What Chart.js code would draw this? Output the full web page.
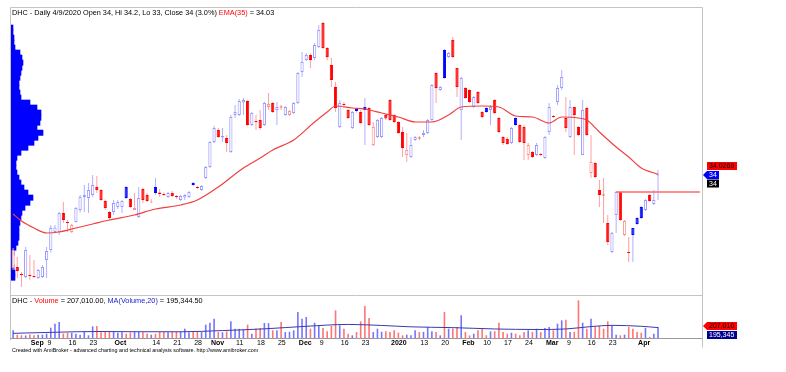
<!DOCTYPE html>
<html lang="en">
<head>
  <meta charset="UTF-8" />
  <meta name="viewport" content="width=device-width,initial-scale=1.0" />
  <title>DHC - Daily, EMA(35), Volume</title>

  <script src="https://cdn.jsdelivr.net/npm/chart.js"></script>

  <style>
    html,body { margin:0; padding:0; background:#fff; }
    #box      { position:relative; width:786px; height:372px; overflow:hidden;
                font-family:"Liberation Sans", Arial, sans-serif; }
    .cap      { position:absolute; left:12px; white-space:nowrap; color:#000; line-height:1; }
    #priceCap { top:9px;   font-size:7.3px; }
    #volCap   { top:297px; font-size:7.3px; }
    #footer   { top:348px; font-size:5.4px; }
    .red      { color:#ff0000; }
    .blue     { color:#2020d0; }
  </style>
</head>
<body>

<div id="box">
  <canvas id="chart"></canvas>
  <div class="cap" id="priceCap"></div>
  <div class="cap" id="volCap"></div>
  <div class="cap" id="footer">Created with AmiBroker - advanced charting and technical analysis software. http://www.amibroker.com</div>
</div>

<script>
  /* ---------- data ---------- */
  const ticker    = 'DHC';
  const firstDay  = '2019-08-27';
  const holidays  = ['2019-09-02','2020-01-01','2020-01-23','2020-01-24','2020-01-27',
                     '2020-01-28','2020-01-29','2020-04-02'];
  const blankBars = 10;          // empty space right of the last bar
  const prevClose = 31.3;        // close of the bar before the first one

  const opens  = [30.28,30.32,30.02,29.92,30.0,29.96,29.88,29.92,30.6,31.0,
                  31.72,31.72,32.48,32.12,31.72,32.12,32.6,33.12,33.08,33.2,
                  33.52,33.4,32.96,32.52,32.52,32.72,32.72,33.52,33.04,32.6,
                  32.32,33.44,33.2,32.9,33.52,33.3,33.24,33.12,33.28,33.16,
                  33.0,33.1,33.12,33.68,33.52,33.4,33.88,34.32,35.32,35.8,
                  35.5,35.48,34.92,36.4,36.4,36.9,36.96,36.0,36.16,36.2,
                  36.0,36.72,36.88,36.6,36.74,36.4,36.4,36.48,36.88,38.12,
                  38.6,38.8,38.68,39.12,40.08,39.08,38.4,37.52,35.92,36.84,
                  36.6,35.88,36.64,36.52,36.72,36.68,35.2,35.52,35.52,36.4,
                  37.0,36.4,36.12,35.72,34.8,34.72,35.4,35.5,35.6,35.68,
                  36.2,38.08,37.4,39.0,38.72,39.4,38.28,36.6,37.48,37.4,
                  36.72,37.32,36.52,36.68,36.6,37.0,36.28,35.52,35.44,35.28,
                  36.28,36.0,35.92,34.8,34.92,34.8,34.84,34.68,35.72,36.36,
                  36.92,37.48,36.28,35.52,36.72,35.92,34.8,36.68,34.08,34.48,
                  33.4,33.22,32.08,30.92,32.4,33.32,31.6,30.92,31.88,32.28,
                  32.72,32.6,33.2,32.84,34.0];
  const highs  = [31.08,30.72,30.12,31.12,30.8,30.6,30.24,30.4,31.12,32.0,
                  32.0,32.52,32.92,32.2,32.04,32.72,33.2,33.6,33.68,34.0,
                  33.96,33.44,33.0,32.56,33.0,33.0,33.0,33.56,33.08,33.28,
                  33.52,33.48,33.28,33.04,33.88,33.44,33.3,33.32,33.36,33.2,
                  33.2,33.24,33.36,33.72,33.56,33.6,34.36,35.36,35.96,35.88,
                  35.88,35.6,36.4,36.8,37.04,37.08,37.0,36.52,36.4,36.6,
                  36.92,37.28,36.92,36.92,36.8,36.76,36.6,36.92,38.12,38.92,
                  38.88,38.88,39.28,40.0,40.12,39.12,38.68,37.72,37.0,36.92,
                  36.64,36.56,36.68,36.6,37.08,36.72,36.12,36.24,36.32,36.44,
                  37.04,36.44,36.16,35.92,35.68,35.52,35.56,35.56,35.8,36.24,
                  37.64,38.12,37.56,39.04,38.92,39.52,38.28,37.92,37.52,37.44,
                  37.16,37.36,36.56,36.72,36.8,37.04,36.32,35.56,35.52,35.92,
                  36.32,36.04,36.0,35.28,34.96,35.28,34.88,35.56,36.88,36.4,
                  37.6,38.2,37.12,37.0,36.72,35.96,37.0,36.72,35.6,34.52,
                  33.8,33.88,32.4,31.72,33.36,33.36,32.2,31.52,31.88,32.32,
                  32.76,33.04,33.24,33.4,34.2];
  const lows   = [30.2,29.88,29.52,29.88,29.8,29.88,29.84,29.88,29.88,30.9,
                  31.68,31.6,32.08,31.72,31.68,32.1,32.5,32.52,32.48,33.12,
                  33.28,32.96,32.6,32.2,32.4,32.64,32.48,33.04,32.68,32.6,
                  32.28,32.88,32.92,32.88,33.2,33.12,33.16,33.08,33.12,33.04,
                  32.96,33.0,33.08,33.56,33.44,33.36,33.84,34.28,35.28,35.48,
                  35.32,34.92,34.88,36.28,36.36,36.4,35.96,35.96,35.8,35.8,
                  35.96,36.6,36.48,36.0,36.6,36.36,36.36,36.44,36.84,37.92,
                  38.56,38.28,38.6,39.08,39.04,38.6,37.52,36.52,35.88,36.68,
                  36.24,35.84,36.5,36.04,35.2,35.96,35.16,35.48,35.48,36.2,
                  36.16,36.08,35.64,34.72,34.52,34.68,35.36,35.4,35.52,35.64,
                  36.16,36.88,37.36,37.84,38.68,38.68,37.12,35.4,37.04,36.88,
                  36.68,36.84,36.28,36.48,36.0,36.44,35.68,35.2,35.2,35.24,
                  35.96,35.28,34.6,34.6,34.68,34.76,34.76,34.64,35.6,36.28,
                  36.8,37.4,35.72,35.48,34.8,35.56,34.8,35.56,33.88,33.88,
                  32.72,32.08,31.2,30.88,31.68,32.16,31.56,30.52,30.52,32.0,
                  32.24,32.56,32.92,32.8,33.0];
  const closes = [31.0,30.16,30.0,31.0,29.96,29.92,30.2,30.32,30.96,31.88,
                  31.9,32.48,32.2,32.08,32.0,32.68,33.12,33.2,33.4,33.6,
                  33.4,33.0,32.68,32.28,32.88,32.92,32.96,33.08,32.72,32.68,
                  33.08,33.0,32.96,32.94,33.28,33.24,33.2,33.28,33.16,33.12,
                  33.16,33.2,33.32,33.6,33.48,33.56,34.32,35.32,35.88,35.52,
                  35.56,35.28,36.32,36.52,36.96,37.0,36.0,36.48,36.12,35.88,
                  36.88,36.84,36.52,36.72,36.7,36.72,36.56,36.88,38.08,38.52,
                  38.8,38.6,39.2,39.8,39.08,38.72,37.8,36.68,36.88,36.8,
                  36.28,36.52,36.56,36.08,36.6,36.0,35.92,36.2,36.28,36.26,
                  36.2,36.12,35.68,35.08,35.0,35.2,35.52,35.46,35.68,36.2,
                  37.6,37.48,37.52,37.88,38.88,38.72,37.52,37.88,37.08,36.92,
                  37.12,36.88,36.32,36.52,36.72,36.48,35.72,35.28,35.24,35.88,
                  36.0,35.32,35.28,35.2,34.72,35.2,34.8,35.52,36.72,36.32,
                  37.48,37.92,35.88,36.72,36.4,35.6,36.6,35.6,34.52,33.92,
                  33.2,33.18,31.32,31.68,33.32,32.2,32.16,30.88,31.6,32.04,
                  32.28,33.0,32.96,33.0,34.0];
  const volumes = [144000,63000,52000,48000,66000,50000,61000,64000,81000,194000,
                   269000,301000,84000,94000,97000,79000,63000,113000,50000,219000,
                   226000,108000,116000,111000,118000,100000,110000,81000,103000,112000,
                   117000,109000,83000,63000,79000,112000,115000,108000,119000,113000,
                   125000,175000,110000,128000,124000,116000,251000,288000,363000,114000,
                   109000,125000,313000,175000,172000,163000,251000,81000,178000,188000,
                   282000,279000,144000,147000,301000,112000,116000,144000,489000,363000,
                   395000,175000,288000,238000,188000,125000,226000,520000,238000,175000,
                   81000,50000,113000,313000,602000,376000,110000,175000,117000,125000,
                   113000,144000,100000,50000,63000,52000,144000,111000,116000,207000,
                   125000,113000,50000,489000,175000,178000,207000,426000,113000,50000,
                   81000,144000,175000,52000,125000,128000,288000,113000,81000,100000,
                   81000,50000,113000,144000,116000,175000,110000,188000,207000,144000,
                   269000,332000,345000,113000,118000,708000,288000,175000,363000,207000,
                   226000,175000,313000,238000,63000,50000,63000,207000,175000,113000,
                   100000,188000,19000,81000,207010];

  // EMA(35) at these bars
  const emaAt     = [0,2,5,8,11,15,19,23,29,34,40,44,49,55,59,62,67,72,75,77,81,
                     84,88,92,96,100,104,107,112,116,120,124,128,131,135,137,140,144,147,150,154];
  const emaValues = [32.44,32.16,31.88,31.68,31.72,31.88,32.04,32.2,32.4,32.64,32.8,33.0,
                     33.52,34.28,34.68,35.0,35.4,36.12,36.52,36.76,36.68,36.64,36.48,36.32,
                     36.12,36.12,36.4,36.72,36.76,36.72,36.36,36.32,36.08,36.32,36.28,36.2,
                     35.72,35.12,34.72,34.28,34.0269];

  // MA(Volume,20)
  const volMaAt     = [0,10,20,30,40,50,60,70,80,88,95,105,115,125,132,138,143,150,154];
  const volMaValues = [88000,108000,122000,118000,117000,140000,172000,220000,255000,236000,
                       210000,195000,170000,160000,170000,215000,238000,220000,195344.5];

  // volume-at-price profile (thousand shares per 0.2 price bin)
  const profilePrice  = [40.0,39.8,39.6,39.4,39.2,39.0,38.8,38.6,38.4,38.2,38.0,37.8,37.6,
                         37.4,37.2,37.0,36.8,36.6,36.4,36.2,36.0,35.8,35.6,35.4,35.2,35.0,
                         34.8,34.6,34.4,34.2,34.0,33.8,33.6,33.4,33.2,33.0,32.8,32.6,32.4,
                         32.2,32.0,31.8,31.6,31.4,31.2,31.0,30.8,30.6,30.4,30.2,30.0];
  const profileVolume = [80,80,120,120,160,360,440,480,440,400,360,320,320,360,400,760,1040,
                         1200,1200,1160,1040,1280,1080,920,680,400,240,200,200,240,320,400,
                         520,680,880,760,560,440,400,360,320,320,320,280,200,120,80,80,120,
                         160,160];

  const levelFrom  = 144;     // horizontal level starts at this bar
  const levelValue = 33.32;

  const tickMarks = [['2019-09-03','Sep'],['2019-09-09','9'],['2019-09-16','16'],['2019-09-23','23'],
                     ['2019-10-01','Oct'],['2019-10-14','14'],['2019-10-21','21'],['2019-10-28','28'],
                     ['2019-11-01','Nov'],['2019-11-11','11'],['2019-11-18','18'],['2019-11-25','25'],
                     ['2019-12-02','Dec'],['2019-12-09','9'],['2019-12-16','16'],['2019-12-23','23'],
                     ['2020-01-02','2020'],['2020-01-13','13'],['2020-01-20','20'],['2020-02-03','Feb'],
                     ['2020-02-10','10'],['2020-02-17','17'],['2020-02-24','24'],['2020-03-02','Mar'],
                     ['2020-03-09','9'],['2020-03-16','16'],['2020-03-23','23'],['2020-04-01','Apr']];
  const boldTicks = ['Sep','Oct','Nov','Dec','2020','Feb','Mar','Apr'];

  /* ---------- helpers ---------- */
  const FONT = '"Liberation Sans", Arial, sans-serif';
  const last = closes.length - 1;

  const dates = [];
  for (let d = new Date(firstDay + 'T00:00:00Z'); dates.length < closes.length; d.setUTCDate(d.getUTCDate() + 1)) {
    const iso = d.toISOString().slice(0, 10), wd = d.getUTCDay();
    if (wd !== 0 && wd !== 6 && !holidays.includes(iso)) dates.push(iso);
  }
  const labels  = dates.concat(Array.from({length: blankBars}, (_, k) => 'pad' + k));
  const tickTxt = new Map(tickMarks);

  const upDay  = closes.map((c, i) => c >= (i ? closes[i - 1] : prevClose));
  const hollow = closes.map((c, i) => c >= opens[i]);

  const bodyFill   = closes.map((c, i) => hollow[i] ? '#ffffff' : (upDay[i] ? '#0000ff' : '#ff0000'));
  const bodyBorder = closes.map((c, i) => hollow[i] ? (upDay[i] ? '#9898ff' : '#ff9090') : bodyFill[i]);
  const wickColor  = upDay.map(u => u ? '#b0b0ff' : '#ffa0a0');
  const volColor   = hollow.map(h => h ? '#7474ff' : '#ff7474');

  const bodies = opens.map((o, i) => {
    const c = closes[i];
    return Math.abs(c - o) < 0.03 ? [o - 0.02, o + 0.02] : [o, c];
  });
  const wicks  = lows.map((l, i) => [l, highs[i]]);

  const sparse = (at, vals) => {
    const out = new Array(closes.length).fill(null);
    at.forEach((k, j) => out[k] = vals[j]);
    return out;
  };
  const emaLine   = sparse(emaAt, emaValues);
  const volMaLine = sparse(volMaAt, volMaValues);
  const levelLine = labels.map((_, i) => i >= levelFrom ? levelValue : null);
  const profile   = profilePrice.map((p, i) => ({x: profileVolume[i], y: p}));

  /* ---------- captions ---------- */
  const [yy, mm, dd] = dates[last].split('-');
  const pct  = ((closes[last] / closes[last - 1] - 1) * 100).toFixed(1);
  const fmt2 = v => v.toLocaleString('en-US', {minimumFractionDigits: 2, maximumFractionDigits: 2});
  const fmt0 = v => v.toLocaleString('en-US', {maximumFractionDigits: 0});
  const emaLast = emaValues[emaValues.length - 1];
  const maLast  = volMaValues[volMaValues.length - 1];

  document.getElementById('priceCap').innerHTML =
    `${ticker} - Daily ${+mm}/${+dd}/${yy} Open ${opens[last]}, Hi ${highs[last]}, Lo ${lows[last]}, ` +
    `Close ${closes[last]} (${pct}%) <span class="red">EMA(35)</span> = ${emaLast.toFixed(2)}`;
  document.getElementById('volCap').innerHTML =
    `${ticker} - <span class="red">Volume</span> = ${fmt2(volumes[last])}, ` +
    `<span class="blue">MA(Volume,20)</span> = ${fmt2(maLast)}`;

  /* ---------- plugins ---------- */
  const paneFrame = {
    id: 'paneFrame',
    afterDraw(chart) {
      const {ctx, chartArea: a, scales: {y}} = chart;
      const L = a.left - 0.5, R = a.right + 0.5, T = a.top - 0.5, B = a.bottom + 0.5;
      const S = Math.round(y.bottom) + 0.5;
      ctx.save();
      ctx.lineWidth = 1;
      ctx.strokeStyle = '#c4c4c4';
      ctx.beginPath();
      ctx.moveTo(L, T); ctx.lineTo(R, T);
      ctx.moveTo(L, T); ctx.lineTo(L, B + 2);
      ctx.moveTo(R, T); ctx.lineTo(R, B + 9);
      ctx.moveTo(L, S); ctx.lineTo(R, S);
      ctx.stroke();
      ctx.strokeStyle = '#9a9a9a';
      ctx.beginPath();
      ctx.moveTo(L, B); ctx.lineTo(R, B);
      ctx.stroke();
      ctx.restore();
    }
  };

  const sideTags = {
    id: 'sideTags',
    afterDraw(chart) {
      const {ctx, chartArea: a, scales: {y, yv}} = chart;
      const x0 = a.right + 5;
      ctx.save();
      ctx.font = '7px ' + FONT;
      ctx.textBaseline = 'middle';
      const tag = (text, yc, bg, fg, arrow) => {
        const w = Math.ceil(ctx.measureText(text).width) + 4;
        ctx.fillStyle = bg;
        ctx.fillRect(x0, yc - 4, w, 8);
        if (arrow) {
          ctx.beginPath();
          ctx.moveTo(x0 - 4, yc); ctx.lineTo(x0, yc - 4); ctx.lineTo(x0, yc + 4);
          ctx.closePath(); ctx.fill();
        }
        ctx.fillStyle = fg;
        ctx.fillText(text, x0 + 2, yc + 0.5);
      };
      const pc = Math.round(y.getPixelForValue(closes[last]));
      tag(emaLast.toFixed(4), pc - 9, '#ff0000', '#000000', false);
      tag(String(closes[last]), pc, '#0000ff', '#ffffff', true);
      tag(String(closes[last]), pc + 8.5, '#000000', '#ffffff', false);

      const vc = Math.round(yv.getPixelForValue(volumes[last])) - 1;
      tag(fmt0(volumes[last]), vc, '#ff0000', '#000000', true);
      tag(fmt0(maLast), vc + 9, '#000090', '#ffffff', false);
      ctx.restore();
    }
  };

  /* ---------- chart ---------- */
  const hiddenAxis = extra => Object.assign({
    offset: false,
    grid: {display: false, drawTicks: false}, border: {display: false},
    ticks: {display: false}
  }, extra);

  new Chart(document.getElementById('chart'), {
    type: 'bar',
    data: {
      labels,
      datasets: [
        { type: 'line', label: 'EMA(35)', data: emaLine, yAxisID: 'y', xAxisID: 'x',
          borderColor: '#f04040', borderWidth: 1.2, pointRadius: 0, spanGaps: true,
          cubicInterpolationMode: 'monotone', order: 0 },
        { type: 'line', label: 'Level', data: levelLine, yAxisID: 'y', xAxisID: 'x',
          borderColor: '#ff6a6a', borderWidth: 1.5, pointRadius: 0, order: 0 },
        { label: 'Body', data: bodies, yAxisID: 'y', xAxisID: 'x', grouped: false,
          backgroundColor: bodyFill, borderColor: bodyBorder, borderWidth: 1,
          borderSkipped: false, barPercentage: 1, categoryPercentage: 0.78,
          maxBarThickness: 3.2, order: 1 },
        { label: 'Wick', data: wicks, yAxisID: 'y', xAxisID: 'x', grouped: false,
          backgroundColor: wickColor, borderWidth: 0, maxBarThickness: 1, order: 2 },
        { label: 'Volume', data: volumes, yAxisID: 'yv', xAxisID: 'x', grouped: false,
          backgroundColor: volColor, borderWidth: 0, maxBarThickness: 1.6, order: 2 },
        { type: 'line', label: 'MA(Volume,20)', data: volMaLine, yAxisID: 'yv', xAxisID: 'x',
          borderColor: '#3a3aa8', borderWidth: 1, pointRadius: 0, spanGaps: true,
          cubicInterpolationMode: 'monotone', order: 0 },
        { label: 'Profile', data: profile, indexAxis: 'y', xAxisID: 'xp', yAxisID: 'y',
          backgroundColor: '#0000ff', borderWidth: 0, barThickness: 5.3, order: 5 }
      ]
    },
    options: {
      responsive: true, maintainAspectRatio: false, animation: false, events: [],
      layout: { padding: { left: 11, right: 84, top: 8, bottom: 24 } },
      plugins: { legend: { display: false }, tooltip: { enabled: false } },
      scales: {
        x: {
          offset: true,
          grid: { display: false, drawTicks: false }, border: { display: false },
          afterFit: s => { s.height = 10; },
          ticks: {
            autoSkip: false, maxRotation: 0, minRotation: 0, padding: 1,
            align: 'start', labelOffset: 1, color: '#000',
            callback: (v, i) => tickTxt.get(labels[i]) || '',
            font: c => ({ family: FONT, size: 7,
                          weight: boldTicks.includes(tickTxt.get(labels[c.index])) ? 'bold' : 'normal' })
          }
        },
        xp: hiddenAxis({ type: 'linear', axis: 'x', position: 'bottom',
                         min: 0, max: 27640, afterFit: s => { s.height = 0; } }),
        yv: hiddenAxis({ type: 'linear', position: 'left', stack: 'panes',
                         min: 0, max: 808400, stackWeight: 43, afterFit: s => { s.width = 0; } }),
        y:  hiddenAxis({ type: 'linear', position: 'left', stack: 'panes',
                         min: 29.2, max: 40.68, stackWeight: 287, afterFit: s => { s.width = 0; } })
      }
    },
    plugins: [paneFrame, sideTags]
  });
</script>

</body>
</html>
